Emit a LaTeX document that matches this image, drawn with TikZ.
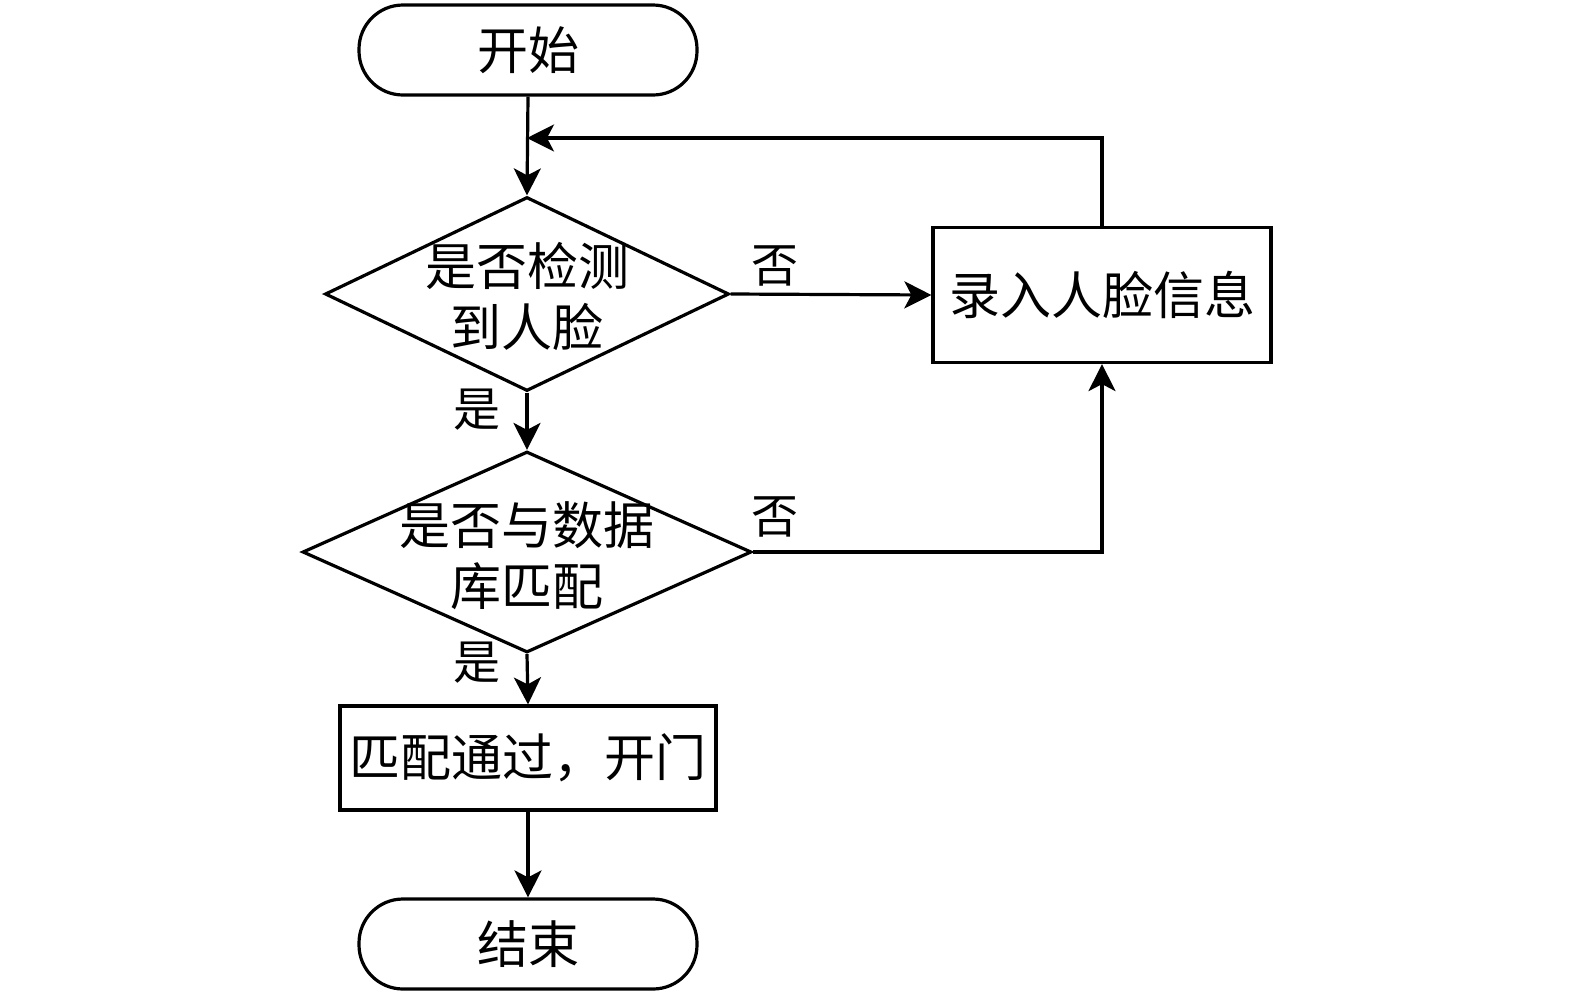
\documentclass[tikz,border=0pt]{standalone}
\usepackage{fontspec}
\setmainfont{Noto Sans CJK SC}
\usetikzlibrary{shapes.geometric,arrows.meta}
\begin{document}
\begin{tikzpicture}[x=1pt,y=-1pt,
  every node/.style={font=\fontsize{51}{61}\selectfont, inner sep=0pt},
  term/.style={draw, line width=3.2pt, rounded corners=44pt, minimum width=338pt, minimum height=90pt},
  procbox/.style={draw, line width=3.2pt, rectangle},
  decision/.style={draw, line width=3.2pt, diamond, aspect=2},
  lbl/.style={font=\fontsize{47}{50}\selectfont},
  conn/.style={line width=3.2pt, -{Stealth[length=27pt,width=27pt,inset=7pt]}},
  plain/.style={line width=3.2pt}]
\useasboundingbox (0,0) rectangle (1575,994);
\node[term] (start) at (528,50) {开始};
\node[decision, minimum width=404pt, minimum height=194pt] (d1) at (527,294) {};
\node[align=center] (d1t) at (527,296) {是否检测\\到人脸};
\node[procbox, minimum width=338pt, minimum height=135pt] (rec) at (1102,295) {录入人脸信息};
\node[decision, minimum width=449pt, minimum height=201pt] (d2) at (527,552) {};
\node[align=center] (d2t) at (527,556) {是否与数据\\库匹配};
\node[procbox, minimum width=376pt, minimum height=104pt] (pass) at (528,758) {匹配通过，开门};
\node[term] (end) at (528,944) {结束};
\coordinate (loopA) at (1102,138);
\coordinate (loopB) at (527,138);
\coordinate (corner) at (1102,552);
\node[lbl] (n1) at (775,266) {否};
\node[lbl] (n2) at (775,517) {否};
\node[lbl] (y1) at (477,410) {是};
\node[lbl] (y2) at (477,663) {是};
\draw[conn] (start.south) -- (d1.north);
\draw[conn] (rec.north) -- (loopA) -- (loopB);
\draw[conn] (d1.east) -- (rec.west);
\draw[conn] (d1.south) -- (d2.north);
\draw[conn] (d2.east) -- (corner) -- (rec.south);
\draw[conn] (d2.south) -- (pass.north);
\draw[conn] (pass.south) -- (end.north);
\end{tikzpicture}
\end{document}
